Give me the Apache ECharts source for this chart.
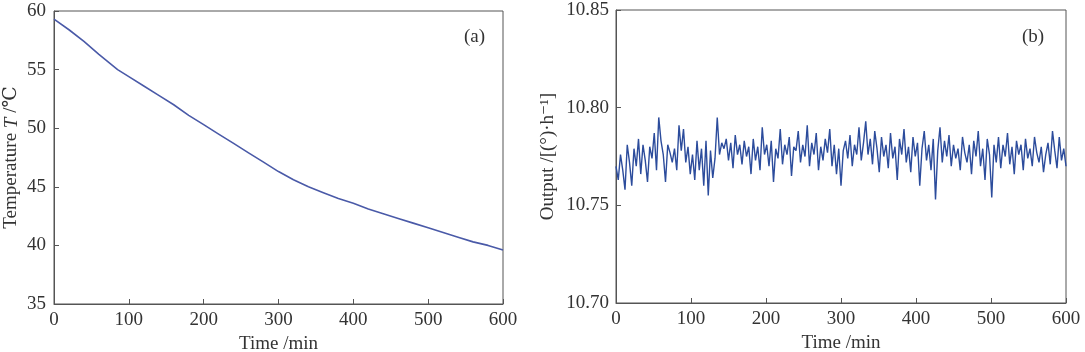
<!DOCTYPE html>
<html>
<head>
<meta charset="utf-8">
<script src="https://cdn.jsdelivr.net/npm/echarts@6/dist/echarts.min.js"></script>
<style>
  html, body { margin: 0; padding: 0; background: #fff; }
  #chart { width: 1085px; height: 352px; }
</style>
</head>
<body>
<div id="chart"></div>
<script>
// (a) temperature vs time
const timeA = [0, 20, 40, 60, 85, 100, 120, 140, 160, 180, 200, 220, 240, 260, 280, 300,
  320, 340, 360, 380, 400, 420, 440, 460, 480, 500, 520, 540, 560, 580, 600];
const tempA = [59.3, 58.4, 57.4, 56.3, 55.0, 54.4, 53.6, 52.8, 52.0, 51.1, 50.3, 49.5, 48.7, 47.9, 47.1, 46.3,
  45.6, 45.0, 44.5, 44.0, 43.6, 43.1, 42.7, 42.3, 41.9, 41.5, 41.1, 40.7, 40.3, 40.0, 39.6];

// (b) output vs time, one sample every 3 min
const stepB = 3;
const outputB = [
  10.770, 10.763, 10.776, 10.768, 10.758, 10.781, 10.772, 10.760, 10.779, 10.770,
  10.784, 10.766, 10.781, 10.773, 10.762, 10.780, 10.774, 10.787, 10.768, 10.795,
  10.783, 10.776, 10.762, 10.781, 10.777, 10.772, 10.779, 10.768, 10.791, 10.778,
  10.789, 10.772, 10.780, 10.766, 10.776, 10.763, 10.783, 10.768, 10.779, 10.760,
  10.783, 10.755, 10.778, 10.764, 10.774, 10.795, 10.776, 10.782, 10.779, 10.784,
  10.773, 10.782, 10.769, 10.786, 10.776, 10.781, 10.771, 10.783, 10.775, 10.780,
  10.766, 10.784, 10.773, 10.780, 10.768, 10.790, 10.776, 10.781, 10.770, 10.783,
  10.762, 10.779, 10.774, 10.789, 10.771, 10.781, 10.776, 10.785, 10.765, 10.780,
  10.778, 10.788, 10.772, 10.781, 10.775, 10.791, 10.770, 10.782, 10.776, 10.787,
  10.768, 10.780, 10.773, 10.784, 10.777, 10.789, 10.770, 10.781, 10.766, 10.779,
  10.760, 10.778, 10.783, 10.774, 10.786, 10.770, 10.781, 10.776, 10.790, 10.773,
  10.782, 10.793, 10.776, 10.784, 10.771, 10.788, 10.779, 10.767, 10.785, 10.775,
  10.781, 10.769, 10.787, 10.774, 10.780, 10.763, 10.784, 10.776, 10.789, 10.772,
  10.780, 10.767, 10.785, 10.775, 10.782, 10.760, 10.779, 10.788, 10.773, 10.781,
  10.768, 10.784, 10.753, 10.778, 10.790, 10.772, 10.783, 10.775, 10.786, 10.770,
  10.781, 10.774, 10.779, 10.768, 10.785, 10.777, 10.772, 10.781, 10.766, 10.783,
  10.775, 10.788, 10.770, 10.779, 10.763, 10.784, 10.776, 10.754, 10.781, 10.772,
  10.785, 10.769, 10.781, 10.775, 10.787, 10.771, 10.780, 10.766, 10.783, 10.776,
  10.781, 10.768, 10.784, 10.774, 10.779, 10.770, 10.785, 10.777, 10.772, 10.780,
  10.767, 10.776, 10.782, 10.771, 10.788, 10.778, 10.769, 10.785, 10.773, 10.779,
  10.770
];

const FONT = '"Liberation Serif", "DejaVu Serif", serif';
const FS = 19;
const AXIS = '#555';
const TEXT = '#333';

const chart = echarts.init(document.getElementById('chart'), null, { renderer: 'canvas' });

function xAxisOpt(gridIndex) {
  return {
    type: 'value', gridIndex: gridIndex, min: 0, max: 600, interval: 100,
    name: 'Time /min', nameLocation: 'middle', nameGap: 28,
    nameTextStyle: { fontFamily: FONT, fontSize: FS, color: TEXT },
    axisLine: { lineStyle: { color: AXIS, width: 1 } },
    axisTick: { inside: true, length: 5, lineStyle: { color: AXIS } },
    axisLabel: { fontFamily: FONT, fontSize: FS, color: TEXT, margin: 7 },
    splitLine: { show: false }
  };
}

chart.setOption({
  animation: false,
  grid: [
    { left: 54, right: 582, top: 11, bottom: 48, show: true, borderColor: AXIS, borderWidth: 1,
      outerBoundsMode: 'none', containLabel: false },
    { left: 616, right: 19, top: 10, bottom: 49, show: true, borderColor: AXIS, borderWidth: 1,
      outerBoundsMode: 'none', containLabel: false }
  ],
  title: [
    { text: '(a)', left: 459, top: 23, textStyle: { fontFamily: FONT, fontSize: FS, fontWeight: 'normal', color: TEXT } },
    { text: '(b)', left: 1017, top: 23, textStyle: { fontFamily: FONT, fontSize: FS, fontWeight: 'normal', color: TEXT } }
  ],
  xAxis: [xAxisOpt(0), xAxisOpt(1)],
  yAxis: [
    {
      type: 'value', gridIndex: 0, min: 35, max: 60, interval: 5,
      name: '{a|Temperature }{i|T}{a| /℃}', nameLocation: 'middle', nameGap: 33,
      nameTextStyle: { rich: {
        a: { fontFamily: FONT, fontSize: FS, color: TEXT },
        i: { fontFamily: FONT, fontSize: FS, color: TEXT, fontStyle: 'italic' }
      } },
      axisLine: { lineStyle: { color: AXIS, width: 1 } },
      axisTick: { inside: true, length: 5, lineStyle: { color: AXIS } },
      axisLabel: { fontFamily: FONT, fontSize: FS, color: TEXT, margin: 8 },
      splitLine: { show: false }
    },
    {
      type: 'value', gridIndex: 1, min: 10.70, max: 10.85, interval: 0.05,
      name: 'Output /[(°)·h⁻¹]', nameLocation: 'middle', nameGap: 58,
      nameTextStyle: { fontFamily: FONT, fontSize: FS, color: TEXT },
      axisLine: { lineStyle: { color: AXIS, width: 1 } },
      axisTick: { inside: true, length: 5, lineStyle: { color: AXIS } },
      axisLabel: { fontFamily: FONT, fontSize: FS, color: TEXT, margin: 7,
        formatter: v => v.toFixed(2) },
      splitLine: { show: false }
    }
  ],
  series: [
    {
      type: 'line', xAxisIndex: 0, yAxisIndex: 0, showSymbol: false, smooth: false,
      data: timeA.map((t, i) => [t, tempA[i]]),
      lineStyle: { color: '#4a5aa8', width: 1.6 }
    },
    {
      type: 'line', xAxisIndex: 1, yAxisIndex: 1, showSymbol: false, smooth: false,
      data: outputB.map((v, i) => [i * stepB, v]),
      lineStyle: { color: '#2c4c9c', width: 1.4 }
    }
  ]
});
</script>
</body>
</html>
